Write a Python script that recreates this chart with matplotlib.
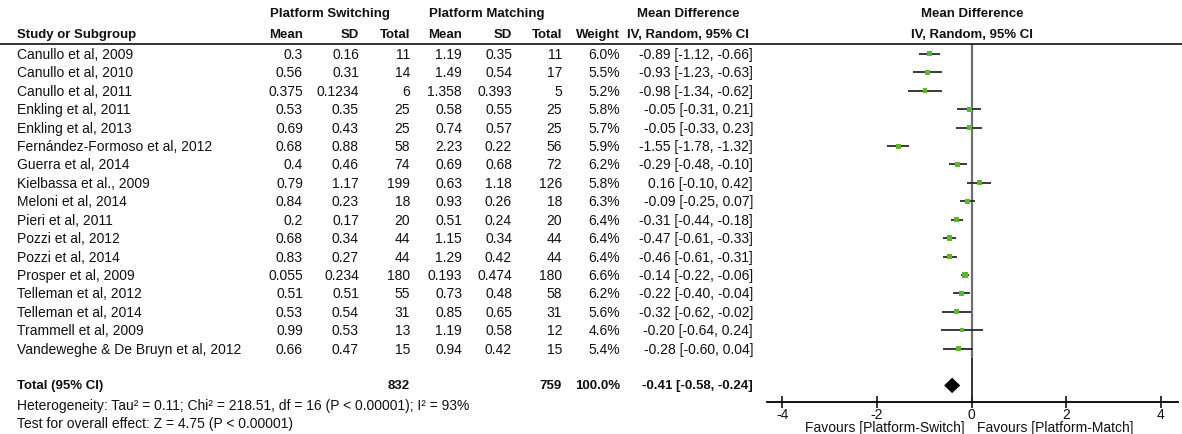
import matplotlib
matplotlib.use('Agg')
import matplotlib.pyplot as plt
import matplotlib.transforms as mtransforms
from matplotlib.lines import Line2D

plt.rcParams['font.family'] = ['Liberation Sans', 'DejaVu Sans']
plt.rcParams['axes.unicode_minus'] = False

studies = ['Canullo et al, 2009', 'Canullo et al, 2010', 'Canullo et al, 2011',
           'Enkling et al, 2011', 'Enkling et al, 2013',
           'Fernández-Formoso et al, 2012', 'Guerra et al, 2014',
           'Kielbassa et al., 2009', 'Meloni et al, 2014', 'Pieri et al, 2011',
           'Pozzi et al, 2012', 'Pozzi et al, 2014', 'Prosper et al, 2009',
           'Telleman et al, 2012', 'Telleman et al, 2014', 'Trammell et al, 2009',
           'Vandeweghe & De Bruyn et al, 2012']
ps_mean = [0.3, 0.56, 0.375, 0.53, 0.69, 0.68, 0.4, 0.79, 0.84, 0.2, 0.68, 0.83,
           0.055, 0.51, 0.53, 0.99, 0.66]
ps_sd = [0.16, 0.31, 0.1234, 0.35, 0.43, 0.88, 0.46, 1.17, 0.23, 0.17, 0.34, 0.27,
         0.234, 0.51, 0.54, 0.53, 0.47]
ps_n = [11, 14, 6, 25, 25, 58, 74, 199, 18, 20, 44, 44, 180, 55, 31, 13, 15]
pm_mean = [1.19, 1.49, 1.358, 0.58, 0.74, 2.23, 0.69, 0.63, 0.93, 0.51, 1.15, 1.29,
           0.193, 0.73, 0.85, 1.19, 0.94]
pm_sd = [0.35, 0.54, 0.393, 0.55, 0.57, 0.22, 0.68, 1.18, 0.26, 0.24, 0.34, 0.42,
         0.474, 0.48, 0.65, 0.58, 0.42]
pm_n = [11, 17, 5, 25, 25, 56, 72, 126, 18, 20, 44, 44, 180, 58, 31, 12, 15]
weight = [6.0, 5.5, 5.2, 5.8, 5.7, 5.9, 6.2, 5.8, 6.3, 6.4, 6.4, 6.4, 6.6, 6.2, 5.6,
          4.6, 5.4]
md = [-0.89, -0.93, -0.98, -0.05, -0.05, -1.55, -0.29, 0.16, -0.09, -0.31, -0.47,
      -0.46, -0.14, -0.22, -0.32, -0.20, -0.28]
ci_lo = [-1.12, -1.23, -1.34, -0.31, -0.33, -1.78, -0.48, -0.10, -0.25, -0.44, -0.61,
         -0.61, -0.22, -0.40, -0.62, -0.64, -0.60]
ci_hi = [-0.66, -0.63, -0.62, 0.21, 0.23, -1.32, -0.10, 0.42, 0.07, -0.18, -0.33,
         -0.31, -0.06, -0.04, -0.02, 0.24, 0.04]

total_ps_n = 832
total_pm_n = 759
total_md = -0.41
total_lo = -0.58
total_hi = -0.24

heterogeneity = 'Heterogeneity: Tau² = 0.11; Chi² = 218.51, df = 16 (P < 0.00001); I² = 93%'
overall = 'Test for overall effect: Z = 4.75 (P < 0.00001)'
xticks = [-4, -2, 0, 2, 4]

W, H = 1182, 435
fig = plt.figure(figsize=(W / 100, H / 100), dpi=100)

# forest panel: rows run downward, study i on row i, total two rows below last
n = len(studies)
total_row = n + 1
ax = fig.add_axes([767 / W, (H - 403) / H, (1178 - 767) / W, (403 - 45) / H])
ax.set_xlim(-4.32, 4.36)
ax.set_ylim(total_row + 0.9, -0.54)
for s in ['top', 'left', 'right']:
    ax.spines[s].set_visible(False)
ax.spines['bottom'].set_linewidth(1.3)
ax.set_yticks([])
ax.set_xticks(xticks)
ax.set_xticklabels([str(t) for t in xticks])
ax.tick_params(axis='x', direction='inout', length=9, width=1.2, pad=-1,
               labelsize=10, colors='#111')

rows = list(range(n))
ax.vlines(0, -0.54, n - 0.5, color='#6e6e6e', lw=1.6)
ax.vlines(0, n - 0.5, total_row + 0.9, color='#222', lw=1.3)
ax.hlines(rows, ci_lo, ci_hi, color='#2a2a2a', lw=1.3)
ax.scatter(md, rows, marker='s', s=[w * 2.2 for w in weight], color='#5cb82a',
           zorder=3, linewidths=0)
ax.fill([total_lo, total_md, total_hi, total_md],
        [total_row, total_row - 0.42, total_row, total_row + 0.42], color='black',
        lw=0)

# table text: x in figure pixels, y in row units of the forest panel
tr = mtransforms.blended_transform_factory(fig.transFigure, ax.transData)


def put(x, row, s, ha='right', bold=False):
    fig.text(x / W, row, s, transform=tr, ha=ha, va='center',
             fontsize=9.5 if bold else 10,
             fontweight='bold' if bold else 'normal', color='#111')


fig.add_artist(Line2D([0, 1], [1 - 45 / H] * 2, transform=fig.transFigure,
                      color='#111', lw=1.2))

h1, h2 = -2.2, -1.1
put(330, h1, 'Platform Switching', ha='center', bold=True)
put(487, h1, 'Platform Matching', ha='center', bold=True)
put(688, h1, 'Mean Difference', ha='center', bold=True)
put(972, h1, 'Mean Difference', ha='center', bold=True)
put(17, h2, 'Study or Subgroup', ha='left', bold=True)
for x, lab in zip([303, 359, 410, 462, 512, 562, 620],
                  ['Mean', 'SD', 'Total', 'Mean', 'SD', 'Total', 'Weight']):
    put(x, h2, lab, bold=True)
put(688, h2, 'IV, Random, 95% CI', ha='center', bold=True)
put(972, h2, 'IV, Random, 95% CI', ha='center', bold=True)

for i in rows:
    put(17, i, studies[i], ha='left')
    put(303, i, str(ps_mean[i]))
    put(359, i, str(ps_sd[i]))
    put(410, i, str(ps_n[i]))
    put(462, i, str(pm_mean[i]))
    put(512, i, str(pm_sd[i]))
    put(562, i, str(pm_n[i]))
    put(620, i, f'{weight[i]:.1f}%')
    put(753, i, f'{md[i]:.2f} [{ci_lo[i]:.2f}, {ci_hi[i]:.2f}]')

put(17, total_row, 'Total (95% CI)', ha='left', bold=True)
put(410, total_row, str(total_ps_n), bold=True)
put(562, total_row, str(total_pm_n), bold=True)
put(620, total_row, f'{sum(weight):.1f}%', bold=True)
put(753, total_row, f'{total_md:.2f} [{total_lo:.2f}, {total_hi:.2f}]', bold=True)

fig.text(17 / W, 1 - 406 / H, heterogeneity, ha='left', va='center', fontsize=10,
         color='#111')
fig.text(17 / W, 1 - 424 / H, overall, ha='left', va='center', fontsize=10,
         color='#111')
fig.text(965 / W, 1 - 428 / H, 'Favours [Platform-Switch]', ha='right',
         va='center', fontsize=10, color='#111')
fig.text(977 / W, 1 - 428 / H, 'Favours [Platform-Match]', ha='left',
         va='center', fontsize=10, color='#111')

fig.savefig('out.png', dpi=100)
